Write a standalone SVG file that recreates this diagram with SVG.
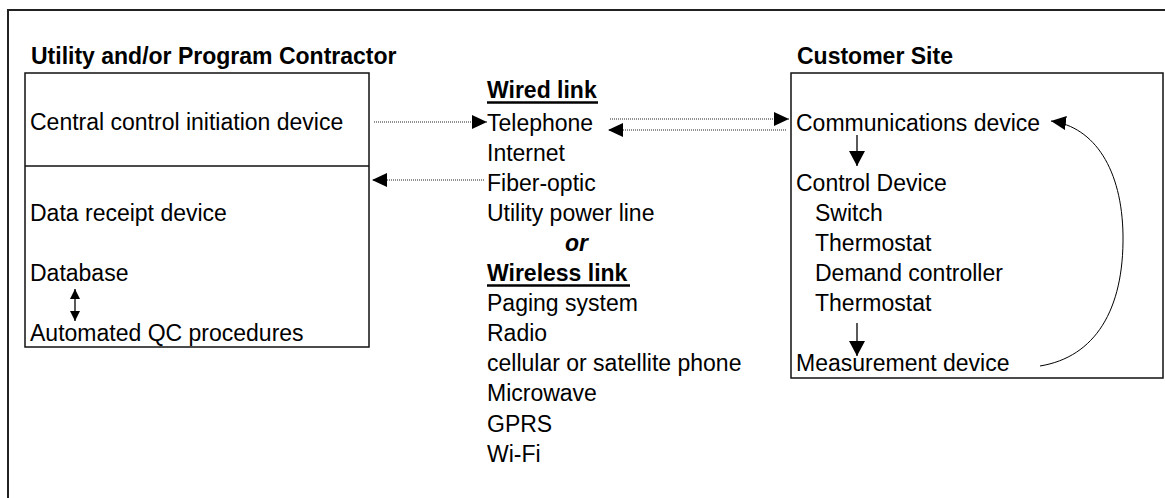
<svg xmlns="http://www.w3.org/2000/svg" width="1165" height="498" viewBox="0 0 1165 498">
<style>
text{font-family:"Liberation Sans",Arial,sans-serif;font-size:23px;fill:#000}
.b{font-weight:bold}
.box{fill:none;stroke:#111;stroke-width:1.5}
.dot{fill:none;stroke:#222;stroke-width:1;stroke-dasharray:1 1}
.sol{fill:none;stroke:#000;stroke-width:1.3}
.ul{stroke:#000;stroke-width:2.5}
</style>
<defs>
<marker id="ah" markerUnits="userSpaceOnUse" markerWidth="15" markerHeight="14" refX="15" refY="7" orient="auto"><path d="M0,0 L15,7 L0,14 z" fill="#000"/></marker>
<marker id="ahd" markerUnits="userSpaceOnUse" markerWidth="15" markerHeight="16" refX="15" refY="8" orient="auto"><path d="M0,0 L15,8 L0,16 z" fill="#000"/></marker>
<marker id="ahs" markerUnits="userSpaceOnUse" markerWidth="10" markerHeight="10" refX="10" refY="5" orient="auto-start-reverse"><path d="M0,0 L10,5 L0,10 z" fill="#000"/></marker>
</defs>
<rect width="1165" height="498" fill="#fff"/>
<path d="M8,498 V10 H1165" fill="none" stroke="#222" stroke-width="2"/>

<g id="utility">
<text x="31" y="64" class="b">Utility and/or Program Contractor</text>
<rect class="box" x="25" y="73" width="344" height="274"/>
<line class="box" x1="25" y1="166" x2="369" y2="166"/>
<text x="30" y="130">Central control initiation device</text>
<text x="30" y="221">Data receipt device</text>
<text x="30" y="281">Database</text>
<text x="30" y="341">Automated QC procedures</text>
</g>

<g id="links">
<text x="487" y="98" class="b">Wired link</text>
<line class="ul" x1="487" y1="102.5" x2="598" y2="102.5"/>
<text x="487" y="130.5">Telephone</text>
<text x="487" y="160.6">Internet</text>
<text x="487" y="190.7">Fiber-optic</text>
<text x="487" y="220.8">Utility power line</text>
<text x="565" y="250.9" class="b" font-style="italic">or</text>
<text x="487" y="281" class="b">Wireless link</text>
<line class="ul" x1="487" y1="285.5" x2="630" y2="285.5"/>
<text x="487" y="311.1">Paging system</text>
<text x="487" y="341.2">Radio</text>
<text x="487" y="371.3">cellular or satellite phone</text>
<text x="487" y="401.4">Microwave</text>
<text x="487" y="431.5">GPRS</text>
<text x="487" y="461.6">Wi-Fi</text>
</g>

<g id="customer">
<text x="797" y="64" class="b">Customer Site</text>
<rect class="box" x="791" y="73" width="372" height="305"/>
<text x="796" y="130.5">Communications device</text>
<text x="796" y="190.7">Control Device</text>
<text x="815" y="220.8">Switch</text>
<text x="815" y="250.9">Thermostat</text>
<text x="815" y="281">Demand controller</text>
<text x="815" y="311.1">Thermostat</text>
<text x="796" y="371.3">Measurement device</text>
</g>

<g id="connectors">
<path class="dot" d="M374,122 H487" marker-end="url(#ah)"/>
<path class="dot" d="M484,180 H372" marker-end="url(#ah)"/>
<path class="dot" d="M610,119 H789" marker-end="url(#ah)"/>
<path class="dot" d="M786,130 H608" marker-end="url(#ah)"/>
<path class="sol" d="M857,135 V166" marker-end="url(#ahd)"/>
<path class="sol" d="M857,323 V356" marker-end="url(#ahd)"/>
<path class="sol" d="M75,289 V321" marker-start="url(#ahs)" marker-end="url(#ahs)"/>
<path fill="none" stroke="#000" stroke-width="1" d="M1040,366 C1095,357 1124,310 1123,235 C1122,170 1095,127 1051,121" marker-end="url(#ah)"/>
</g>
</svg>
